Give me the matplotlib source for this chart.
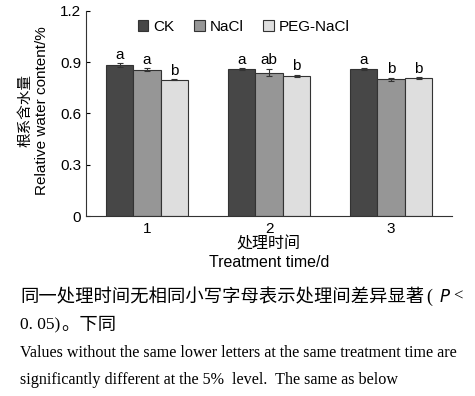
import numpy as np
import matplotlib
matplotlib.use('Agg')
from matplotlib import pyplot as plt
from matplotlib.patches import Patch

plt.rcParams['font.family'] = ['Liberation Sans', 'Noto Sans CJK SC']

days = [1, 2, 3]
groups = ['CK', 'NaCl', 'PEG-NaCl']
ck = [0.884, 0.859, 0.859]
nacl = [0.855, 0.839, 0.800]
peg = [0.796, 0.820, 0.808]
ck_err = [0.010, 0.005, 0.006]
nacl_err = [0.008, 0.022, 0.010]
peg_err = [0.003, 0.007, 0.006]
ck_sig = ['a', 'a', 'a']
nacl_sig = ['a', 'ab', 'b']
peg_sig = ['b', 'b', 'b']

colors = ['#474747', '#969696', '#dedede']

fig = plt.figure(figsize=(4.75, 3.96), dpi=100)
ax = fig.add_axes([0.181, 0.4545, 0.771, 0.518])

x = np.array(days)
w = 0.225
series = [(ck, ck_err, ck_sig), (nacl, nacl_err, nacl_sig), (peg, peg_err, peg_sig)]
for i, (vals, errs, sig) in enumerate(series):
    xs = x + (i - 1) * w
    ax.bar(xs, vals, w, color=colors[i], edgecolor='#333333', linewidth=0.8,
           yerr=errs, capsize=2.5, error_kw=dict(elinewidth=0.8, capthick=0.8, ecolor='#333333'))
    for xi, v, e, s in zip(xs, vals, errs, sig):
        ax.text(xi, v + e + 0.008, s, ha='center', va='bottom', fontsize=11)

ax.set_xlim(0.5, 3.5)
ax.set_ylim(0, 1.2)
ax.set_yticks([0, 0.3, 0.6, 0.9, 1.2])
ax.set_yticklabels(['0', '0.3', '0.6', '0.9', '1.2'])
ax.set_xticks(days)
ax.tick_params(axis='y', direction='in', length=3, labelsize=11)
ax.tick_params(axis='x', length=0, labelsize=11, pad=4)
for s in ['top', 'right']:
    ax.spines[s].set_visible(False)
for s in ['left', 'bottom']:
    ax.spines[s].set_color('#333333')
    ax.spines[s].set_linewidth(0.8)

handles = [Patch(facecolor=c, edgecolor='#333333', linewidth=0.8) for c in colors]
ax.legend(handles, groups, loc='upper center', ncol=3, frameon=False, fontsize=11,
          bbox_to_anchor=(0.43, 1.0), handlelength=0.7, handleheight=0.7,
          handletextpad=0.3, columnspacing=1.3, borderaxespad=0.2)

fig.text(0.053, 0.72, '根系含水量', rotation=90, ha='center', va='center', fontsize=10.5)
fig.text(0.089, 0.72, 'Relative water content/%', rotation=90, ha='center', va='center', fontsize=11)
fig.text(0.566, 0.383, '处理时间', ha='center', va='center', fontsize=11.5)
fig.text(0.566, 0.337, 'Treatment time/d', ha='center', va='center', fontsize=11.5)

cjk = 'Noto Sans CJK SC'
fig.text(0.042, 0.25, '同一处理时间无相同小写字母表示处理间差异显著', fontsize=13.2,
         family=cjk, va='center')
fig.text(0.897, 0.25, '(', fontsize=13, family='Liberation Serif', va='center')
fig.text(0.925, 0.25, '$P$', fontsize=12, va='center')
fig.text(0.955, 0.25, '<', fontsize=12, family='Liberation Serif', va='center')
fig.text(0.042, 0.179, '0. 05)', fontsize=12.5, family='Liberation Serif', va='center')
fig.text(0.128, 0.179, '。下同', fontsize=13.2, family=cjk, va='center')
fig.text(0.042, 0.109, 'Values without the same lower letters at the same treatment time are',
         fontsize=11.6, family='Liberation Serif', va='center')
fig.text(0.042, 0.04, 'significantly different at the 5%  level.  The same as below',
         fontsize=11.6, family='Liberation Serif', va='center')

fig.savefig('out.png', dpi=100)
